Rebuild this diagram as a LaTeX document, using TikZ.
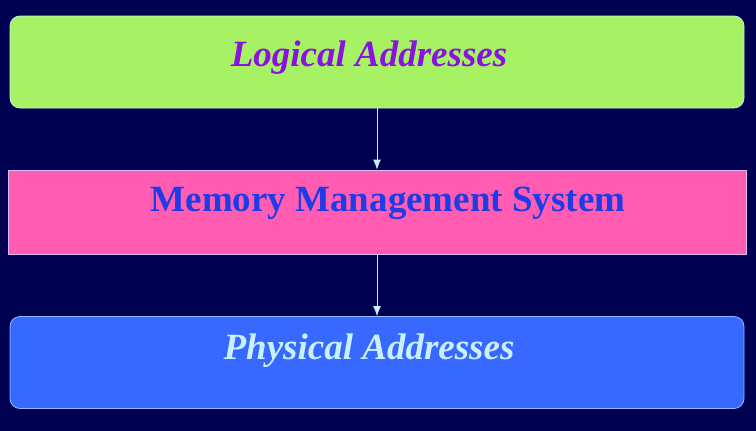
\documentclass[tikz,border=0pt]{standalone}
\usepackage{fontspec}
\setmainfont{Liberation Serif}
\usepackage{xcolor}
\usetikzlibrary{calc, positioning, arrows.meta}
\definecolor{navy}{HTML}{000050}
\definecolor{lime}{HTML}{A6F264}
\definecolor{violet}{HTML}{8A12E0}
\definecolor{rose}{HTML}{FF5CB2}
\definecolor{royal}{HTML}{1E3CE6}
\definecolor{sky}{HTML}{3768FF}
\definecolor{ice}{HTML}{C8F0FF}
\tikzset{
	box/.style={minimum width=734pt, minimum height=92pt, inner sep=0pt, line width=0.8pt},
	flow/.style={-{Latex[length=10pt,width=8pt]}, draw=ice, fill=ice, line width=0.8pt}
}

\begin{document}
\begin{tikzpicture}[
	x=1pt, y=1pt,
	lbl/.style={font=\fontsize{37}{42}\selectfont\bfseries, inner sep=0pt}]
	\fill[navy] (0,0) rectangle (756,-431);
	\useasboundingbox (0,0) rectangle (756,-431);
	\node[box, rounded corners=10pt, fill=lime, draw=ice!70!lime] (logical) at (377,-62) {};
	\node[box, minimum width=738pt, minimum height=84pt, fill=rose, draw=violet!30!white] (mms) at (377,-212) {};
	\node[box, rounded corners=10pt, fill=sky, draw=ice!60!sky] (physical) at (377,-362.5) {};
	\node[lbl, text=violet] (logtxt) at ($(logical.center)+(-8,4)$) {\itshape Logical Addresses};
	\node[lbl, text=royal] (mmstxt) at ($(mms.center)+(11,9)$) {Memory Management System};
	\node[lbl, text=ice] (phystxt) at ($(physical.center)+(-8,12)$) {\itshape Physical Addresses};
	\draw[flow] (logical.south) -- (mms.north);
	\draw[flow] (mms.south) -- (physical.north);
\end{tikzpicture}
\end{document}
